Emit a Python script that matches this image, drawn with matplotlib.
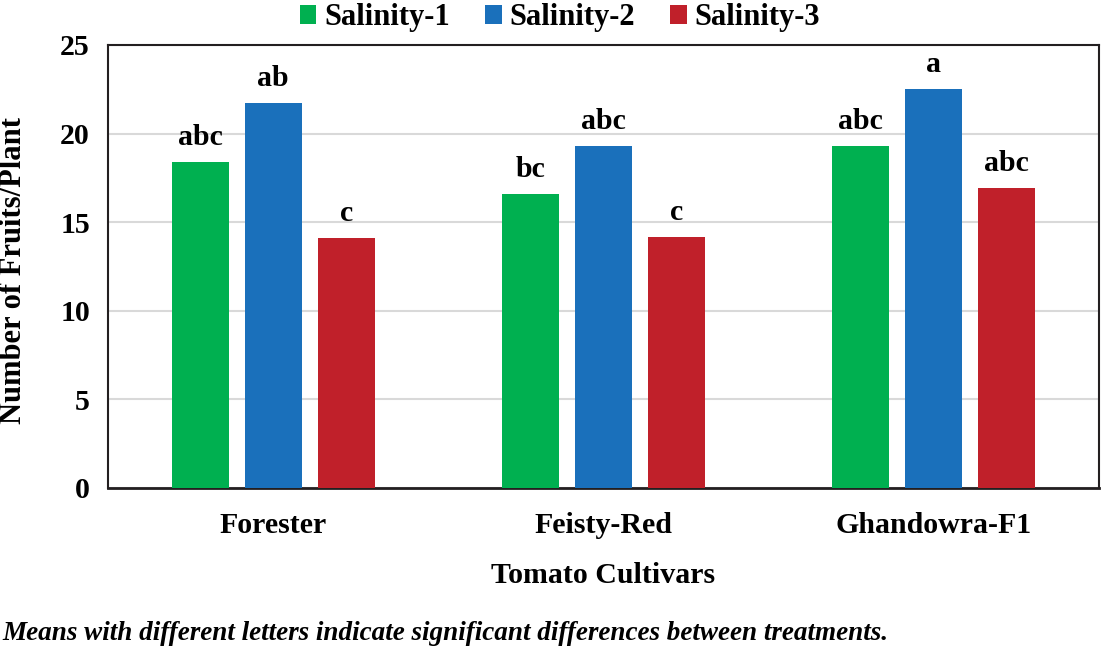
import numpy as np
import matplotlib.pyplot as plt

# data
cultivars = ['Forester', 'Feisty-Red', 'Ghandowra-F1']
series_names = ['Salinity-1', 'Salinity-2', 'Salinity-3']
salinity_1 = [18.4, 16.6, 19.3]
salinity_2 = [21.7, 19.3, 22.5]
salinity_3 = [14.1, 14.15, 16.95]
letters_1 = ['abc', 'bc', 'abc']
letters_2 = ['ab', 'abc', 'a']
letters_3 = ['c', 'c', 'abc']
yticks = [0, 5, 10, 15, 20, 25]

colors = ['#00B050', '#1A70BB', '#C0202A']
FS = 21.5

plt.rcParams['font.family'] = ['Liberation Serif', 'DejaVu Serif']
plt.rcParams['font.weight'] = 'bold'

fig = plt.figure(figsize=(11.01, 6.49), dpi=100)
ax = fig.add_axes([0.0981, 0.2481, 0.9, 0.6826])

x = np.arange(len(cultivars))
width = 0.173
step = 0.221
all_vals = [salinity_1, salinity_2, salinity_3]
all_letters = [letters_1, letters_2, letters_3]

for i, (vals, labs) in enumerate(zip(all_vals, all_letters)):
    pos = x + (i - 1) * step
    bars = ax.bar(pos, vals, width, color=colors[i], label=series_names[i], zorder=3)
    for b, lab in zip(bars, labs):
        ax.annotate(lab, (b.get_x() + b.get_width() / 2, b.get_height()),
                    xytext=(0, 8), textcoords='offset points',
                    ha='center', va='bottom', fontsize=FS, fontweight='bold')

ax.set_xlim(-0.5, 2.5)
ax.set_ylim(0, 25)
ax.set_yticks(yticks)
ax.set_yticklabels([str(t) for t in yticks], fontsize=FS, fontweight='bold')
ax.set_xticks(x)
ax.set_xticklabels(cultivars, fontsize=FS, fontweight='bold')
ax.tick_params(axis='y', length=0, pad=13)
ax.tick_params(axis='x', length=0, pad=17)
ax.grid(axis='y', color='#D9D9D9', linewidth=1.5, zorder=0)

for s in ax.spines.values():
    s.set_color('#231F20')
    s.set_linewidth(1.5)
ax.spines['bottom'].set_linewidth(2)

ax.set_xlabel('Tomato Cultivars', fontsize=FS, fontweight='bold', labelpad=17)
ax.set_ylabel('Number of Fruits/Plant', fontsize=22, fontweight='bold')
ax.yaxis.set_label_coords(-0.081, 0.49)

ax.legend(loc='lower center', bbox_to_anchor=(0.456, 1.029), ncol=3, frameon=False,
          fontsize=22, handlelength=0.55, handleheight=0.55, handletextpad=0.25,
          columnspacing=1.15, borderaxespad=0, borderpad=0)

fig.text(0.002, 0.004, 'Means with different letters indicate significant differences between treatments.',
         fontsize=19.5, fontweight='bold', style='italic', ha='left', va='bottom')

fig.savefig('out.png', dpi=100)
